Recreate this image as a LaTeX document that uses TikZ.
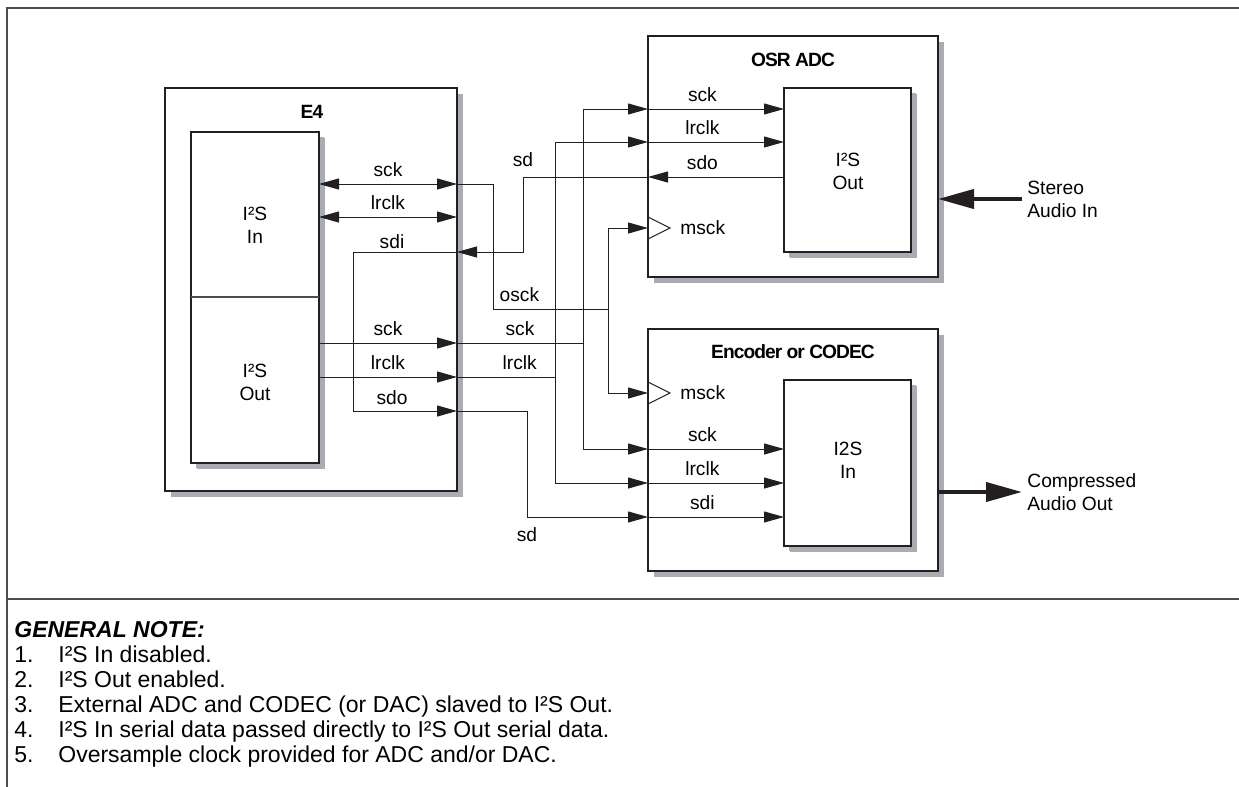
\documentclass[tikz,border=0pt]{standalone}
\usepackage{fontspec}
\setmainfont{Liberation Sans}
\usetikzlibrary{arrows.meta,positioning,shadows}
\definecolor{shadegray}{HTML}{A9ADB3}
\definecolor{inkgray}{HTML}{231F20}

\begin{document}
\begin{tikzpicture}[
        x=0.5pt, y=-0.5pt,
        font=\fontsize{9.6}{11.5}\selectfont,
        blk/.style={rectangle, draw=inkgray, line width=1.2pt, fill=white, inner sep=0pt, outer sep=0pt,
            drop shadow={shadow xshift=3pt, shadow yshift=-3pt, fill=shadegray, opacity=1}},
        inblk/.style={blk, drop shadow={shadow xshift=2.5pt, shadow yshift=-2.5pt, fill=shadegray, opacity=1}},
        title/.style={font=\fontsize{9.6}{11.5}\selectfont\bfseries\addfontfeatures{LetterSpace=-5}},
        lbl/.style={inner sep=1pt, align=center},
        wire/.style={line width=0.5pt, draw=inkgray},
        sig/.style={wire, -{Triangle[length=10pt, width=5.5pt]}},
        bisig/.style={wire, {Triangle[length=10pt, width=5.5pt]}-{Triangle[length=10pt, width=5.5pt]}},
        fat/.style={line width=2pt, draw=inkgray, -{Triangle[length=18pt, width=9.5pt]}},
        note/.style={anchor=base west, inner sep=0pt, font=\fontsize{11.5}{13}\selectfont}
    ]
        \useasboundingbox (0,0) rectangle (1239,787);

        % frame
        \draw[line width=0.6pt, inkgray!80] (1239,8) -- (7,8) -- (7,787);
        \draw[line width=0.6pt, inkgray!80] (7,599) -- (1239,599);

        % blocks
        \node[blk, minimum width=146pt, minimum height=201.5pt] (e4) at (311,289.5) {};
        \node[inblk, minimum width=64pt, minimum height=165.5pt] (e4io) at (255,297.5) {};
        \draw[line width=0.6pt, inkgray!80] (e4io.west |- 0,297) -- (e4io.east |- 0,297);
        \node[blk, minimum width=145pt, minimum height=120.5pt] (osr) at (793,156.5) {};
        \node[inblk, minimum width=63.5pt, minimum height=82pt] (osrin) at (847.5,170) {};
        \node[blk, minimum width=145pt, minimum height=121pt] (enc) at (793,450) {};
        \node[inblk, minimum width=63.5pt, minimum height=83pt] (encin) at (847.5,463) {};

        \node[title] at (312,112) {E4};
        \node[title] at (793,60) {OSR ADC};
        \node[title] at (793,352) {Encoder or CODEC};
        \node[lbl] at (255,225) {I²S\\In};
        \node[lbl] at (255,382) {I²S\\Out};
        \node[lbl] at (848,171) {I²S\\Out};
        \node[lbl] at (848,460) {I2S\\In};

        % junction points
        \coordinate (josck) at (608,309);
        \coordinate (jsck) at (583,343);
        \coordinate (jlr) at (555,377);

        % E4 I2S In
        \draw[bisig] (e4io.east |- 0,184) -- node[lbl,above=2.5pt]{sck} (e4.east |- 0,184);
        \draw[bisig] (e4io.east |- 0,217) -- node[lbl,above=2.5pt]{lrclk} (e4.east |- 0,217);
        \draw[wire] (e4.east |- 0,184) -| (493,309) -- node[lbl,above=2.5pt,pos=0.23]{osck} (josck);
        \draw[sig] (josck) |- (osr.west |- 0,228);
        \draw[sig] (josck) |- (enc.west |- 0,393);

        % E4 I2S Out
        \draw[sig] (e4io.east |- 0,343) -- node[lbl,above=2.5pt]{sck} (e4.east |- 0,343);
        \draw[wire] (e4.east |- 0,343) -- node[lbl,above=2.5pt]{sck} (jsck);
        \draw[sig] (jsck) |- (osr.west |- 0,109);
        \draw[sig] (jsck) |- (enc.west |- 0,449);
        \draw[sig] (e4io.east |- 0,377) -- node[lbl,above=2.5pt]{lrclk} (e4.east |- 0,377);
        \draw[wire] (e4.east |- 0,377) -- node[lbl,above=2.5pt,pos=0.64]{lrclk} (jlr);
        \draw[sig] (jlr) |- (osr.west |- 0,142);
        \draw[sig] (jlr) |- (enc.west |- 0,483);

        % serial data
        \draw[sig] (osrin.west |- 0,177) -- node[lbl,above=2.5pt,pos=0.6]{sdo} (osr.west |- 0,177);
        \draw[sig] (osr.west |- 0,177) -| node[lbl,above=4pt,pos=0.5]{sd} (523,252) -- (e4.east |- 0,252);
        \draw[sig] (e4.east |- 0,252) -| (353,411) -- (e4.east |- 0,411);
        \node[lbl] at (392,242) {sdi};
        \node[lbl] at (392,398) {sdo};
        \draw[sig] (e4.east |- 0,411) -| (527,517) node[lbl,below=4pt]{sd} -- (enc.west |- 0,517);

        % OSR ADC inputs
        \draw[sig] (osr.west |- 0,109) -- node[lbl,above=2.5pt,pos=0.4]{sck} (osrin.west |- 0,109);
        \draw[sig] (osr.west |- 0,142) -- node[lbl,above=2.5pt,pos=0.4]{lrclk} (osrin.west |- 0,142);
        \draw[wire] (osr.west |- 0,217) -- (670,228) -- (osr.west |- 0,239);
        \node[lbl, anchor=west] at (678,228) {msck};

        % Encoder inputs
        \draw[sig] (enc.west |- 0,449) -- node[lbl,above=2.5pt,pos=0.4]{sck} (encin.west |- 0,449);
        \draw[sig] (enc.west |- 0,483) -- node[lbl,above=2.5pt,pos=0.4]{lrclk} (encin.west |- 0,483);
        \draw[sig] (enc.west |- 0,517) -- node[lbl,above=2.5pt,pos=0.4]{sdi} (encin.west |- 0,517);
        \draw[wire] (enc.west |- 0,382) -- (670,393) -- (enc.west |- 0,404);
        \node[lbl, anchor=west] at (678,393) {msck};

        % audio
        \node[lbl, anchor=west, align=left, inner sep=2.5pt] (stereo) at (1022,199) {Stereo\\Audio In};
        \node[lbl, anchor=west, align=left, inner sep=2.5pt] (comp) at (1022,492) {Compressed\\Audio Out};
        \draw[fat] (stereo.west) -- (osr.east |- stereo.west);
        \draw[fat] (enc.east |- comp.west) -- (comp.west);

        % notes
        \node[note, font=\fontsize{11.5}{13}\selectfont\bfseries\itshape] (gn) at (14,637) {GENERAL NOTE:};
        \foreach \txt [count=\i] in {
            {I²S In disabled.},
            {I²S Out enabled.},
            {External ADC and CODEC (or DAC) slaved to I²S Out.},
            {I²S In serial data passed directly to I²S Out serial data.},
            {Oversample clock provided for ADC and/or DAC.}}{
            \node[note] (num\i) at (14,637+25*\i) {\i.};
            \node[note] (item\i) at (58,637+25*\i) {\txt};
        }
    \end{tikzpicture}
\end{document}
